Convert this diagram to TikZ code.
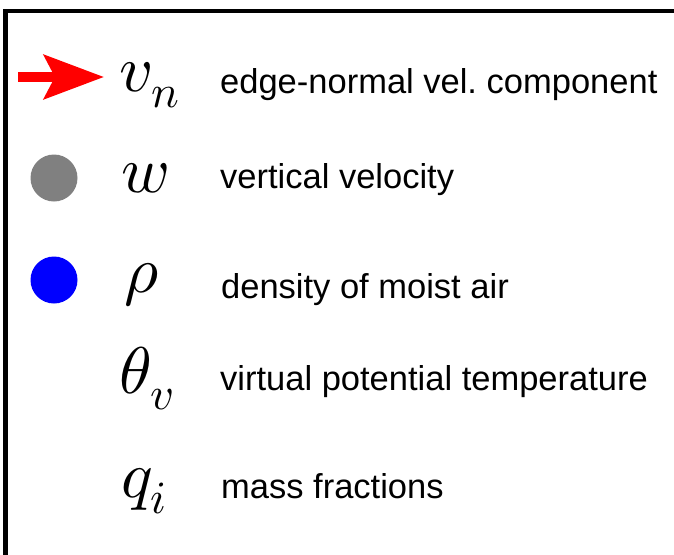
\documentclass[tikz,border=0pt]{standalone}
\usepackage{fontspec}
\usepackage{unicode-math}
\setmainfont{Liberation Sans}
\setmathfont{Latin Modern Math}
\usepackage{tikz}
\usetikzlibrary{arrows.meta}

\begin{document}
\begin{tikzpicture}[
  x=1pt, y=-1pt,
  symb/.style={anchor=base west, inner sep=0pt, font=\fontsize{66}{72}\selectfont},
  desc/.style={anchor=base west, inner sep=0pt, font=\fontsize{34.5}{40}\selectfont},
  marker/.style={circle, inner sep=0pt, minimum size=47pt},
]
\useasboundingbox (0,0) rectangle (674,554);

% frame (cut at right and bottom)
\draw[line width=4.5pt] (5.5,570) -- (5.5,11) -- (690,11);

% edge-normal velocity
\coordinate (vnTail) at (18,77);
\coordinate (vnTip) at (104,77);
\draw[red, line width=9.5pt, -{Stealth[length=60pt, width=44pt, inset=11pt]}] (vnTail) -- (vnTip);
\node[symb] (vnSym) at (119,91) {$v_n$};
\node[desc] (vnTxt) at (220,93) {edge-normal vel.\ component};

% vertical velocity
\node[marker, fill=gray] (wDot) at (54,178) {};
\node[symb] (wSym) at (121,192) {$w$};
\node[desc] (wTxt) at (220,188) {vertical velocity};

% density
\node[marker, fill=blue] (rhoDot) at (54,280) {};
\node[symb] (rhoSym) at (124,292) {$\rho$};
\node[desc] (rhoTxt) at (221,298) {density of moist air};

% potential temperature
\node[symb] (thSym) at (119,393) {$\theta_v$};
\node[desc] (thTxt) at (220,390) {virtual potential temperature};

% tracers
\node[symb] (qSym) at (121,497) {$q_i$};
\node[desc] (qTxt) at (221,498) {mass fractions};

\end{tikzpicture}
\end{document}
